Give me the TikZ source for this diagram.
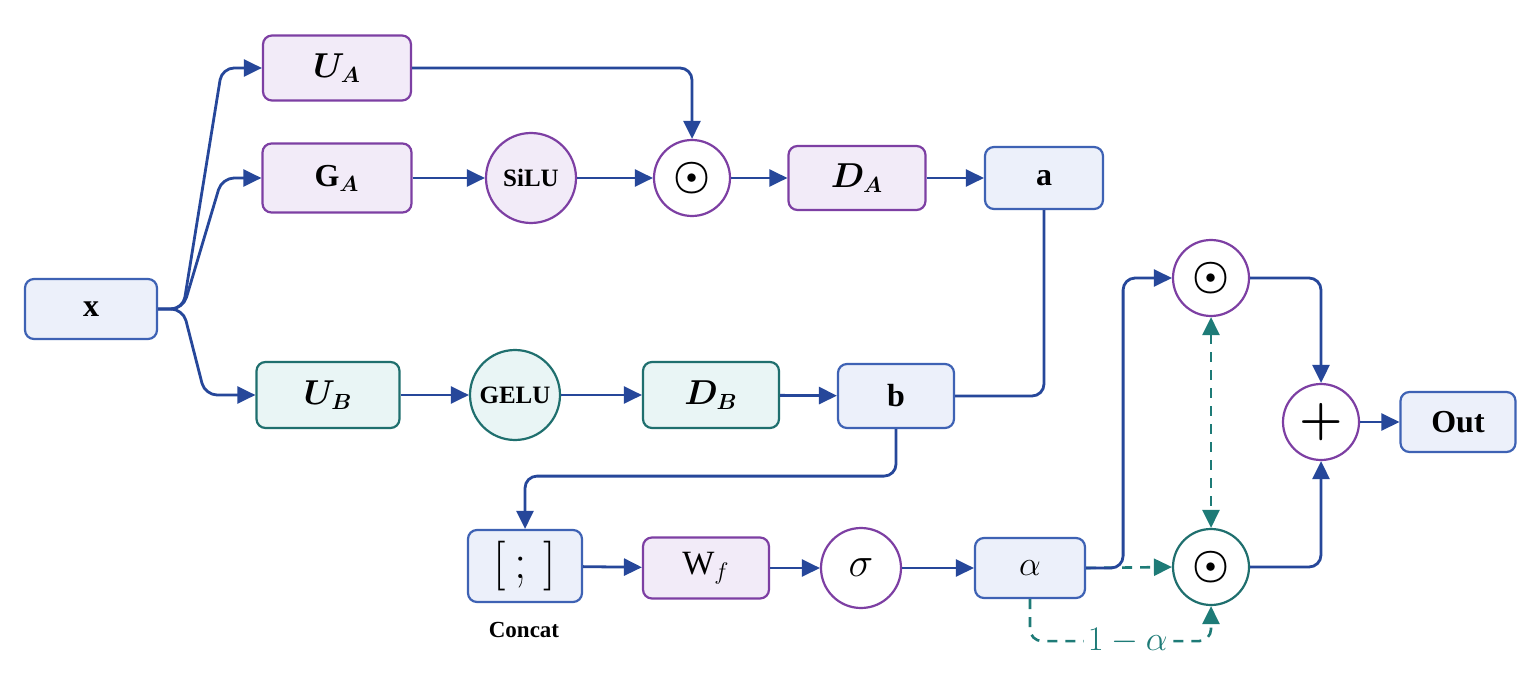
\documentclass[tikz,border=0pt]{standalone}
\usepackage{amsmath, amssymb}
\usepackage{fontspec}
\setmainfont{Liberation Serif}
\usepackage{xcolor}
\usetikzlibrary{arrows.meta, calc}

\definecolor{flowblue}{HTML}{26479A}
\definecolor{lineblue}{HTML}{3E62B4}
\definecolor{fillblue}{HTML}{ECF0FA}
\definecolor{linepurp}{HTML}{7D3FA3}
\definecolor{fillpurp}{HTML}{F2EBF8}
\definecolor{lineteal}{HTML}{1F6F6E}
\definecolor{fillteal}{HTML}{E9F5F5}
\definecolor{mixteal}{HTML}{1E7B77}

\begin{document}
\begin{tikzpicture}[x=0.5pt,y=-0.5pt]
\tikzset{blubox/.style={draw=lineblue,fill=fillblue,line width=1.1pt,rounded corners=4.5pt,
           inner sep=0pt,font=\fontsize{16}{19}\selectfont\bfseries},
         purbox/.style={blubox,draw=linepurp,fill=fillpurp},
         tealbox/.style={blubox,draw=lineteal,fill=fillteal},
         opcirc/.style={circle,draw=linepurp,fill=white,line width=1.1pt,inner sep=0pt,
           minimum size=38pt,font=\fontsize{21}{23}\selectfont},
         flow/.style={draw=flowblue,line width=1.4pt,rounded corners=6pt},
         arr/.style={-{Triangle[length=9pt,width=8.5pt]}},
         mix/.style={draw=mixteal,line width=1.3pt,dash pattern=on 5pt off 4pt,rounded corners=6pt}}
% Canvas
\fill[white](0,0) rectangle (1536,695);
\useasboundingbox (0,0) rectangle (1536,695);
% Input
\node[blubox,minimum width=66pt,minimum height=30pt] (x) at (91,309) {x};
\coordinate (split) at (183,309);
% Branch A
\node[purbox,minimum width=74pt,minimum height=32.5pt] (UA) at (337,68) {$\boldsymbol{U_A}$};
\node[purbox,minimum width=74.5pt,minimum height=34.5pt] (GA) at (337,178) {G$_{\boldsymbol{A}}$};
\node[opcirc,fill=fillpurp,minimum size=45pt,font=\fontsize{12.5}{14}\selectfont\bfseries] (silu) at (531,178) {SiLU};
\node[opcirc] (odA) at (692,178) {$\boldsymbol{\odot}$};
\node[purbox,minimum width=68.5pt,minimum height=32pt] (DA) at (857,178) {$\boldsymbol{D_A}$};
\node[blubox,minimum width=59pt,minimum height=31pt] (a) at (1044,178) {a};
% Branch B
\node[tealbox,minimum width=71.5pt,minimum height=33pt] (UB) at (328,395) {$\boldsymbol{U_B}$};
\node[opcirc,draw=lineteal,fill=fillteal,minimum size=45pt,font=\fontsize{12.5}{14}\selectfont\bfseries] (gelu) at (515,395) {GELU};
\node[tealbox,minimum width=68pt,minimum height=33pt] (DB) at (711,395) {$\boldsymbol{D_B}$};
\node[blubox,minimum width=58pt,minimum height=32pt] (b) at (896,396) {b};
% Gate
\node[blubox,minimum width=57pt,minimum height=36pt,font=\fontsize{23}{26}\selectfont] (cat) at (525,566) {$[\,;\,]$};
\node[font=\fontsize{11.5}{14}\selectfont\bfseries] (catlbl) at (524,630) {Concat};
\node[purbox,minimum width=63pt,minimum height=30.5pt,font=\fontsize{17}{19}\selectfont] (Wf) at (706,568) {W$_f$};
\node[opcirc,minimum width=39pt,minimum height=40pt,font=\fontsize{22}{24}\selectfont] (sig) at (861,568) {$\sigma$};
\node[blubox,minimum width=55pt,minimum height=30pt,font=\fontsize{19}{21}\selectfont] (alpha) at (1030,568) {$\alpha$};
% Mixing
\node[opcirc] (odB) at (1211,278) {$\boldsymbol{\odot}$};
\node[opcirc,draw=lineteal] (odC) at (1211,567) {$\boldsymbol{\odot}$};
\node[opcirc,font=\fontsize{24}{26}\selectfont] (plus) at (1321,422) {$\boldsymbol{+}$};
\node[blubox,minimum width=57.5pt,minimum height=30pt] (out) at (1458,422) {Out};

% Connectors from x
\draw[flow,arr] (x.east) -- (split) -- (222,68) -- (UA.west);
\draw[flow,arr] (x.east) -- (split) -- (222,178) -- (GA.west);
\draw[flow,arr] (x.east) -- (split) -- (205,395) -- (UB.west);
% Branch A flow
\draw[flow,arr] (UA.east) -| (odA.north);
\draw[flow,arr] (GA) -- (silu);
\draw[flow,arr] (silu) -- (odA);
\draw[flow,arr] (odA) -- (DA);
\draw[flow,arr] (DA) -- (a);
% Branch B flow
\draw[flow,arr] (UB) -- (gelu);
\draw[flow,arr] (gelu) -- (DB);
\draw[flow,arr] (DB) -- (b);
\draw[flow] (a.south) |- (b.east);
% Gate flow
\draw[flow,arr] (b.south) -- ++(0,47) -| (cat.north);
\draw[flow,arr] (cat) -- (Wf);
\draw[flow,arr] (Wf) -- (sig);
\draw[flow,arr] (sig) -- (alpha);
% Mixing weights
\draw[mix,arr] (alpha.east) -- (odC.west);
\draw[mix,arr] (alpha.south) -- ++(0,42) -| (odC.south)
  node[pos=0.27,fill=white,inner sep=2pt,text=mixteal,font=\fontsize{17}{19}\selectfont]{$1-\alpha$};
\draw[mix,{Triangle[length=9pt,width=8.5pt]}-{Triangle[length=9pt,width=8.5pt]}] (odB) -- (odC);
\draw[flow,arr] (alpha.east) -- ++(37,0) |- (odB.west);
% Sum
\draw[flow,arr] (odB.east) -| (plus.north);
\draw[flow,arr] (odC.east) -| (plus.south);
\draw[flow,arr] (plus) -- (out);
\end{tikzpicture}
\end{document}
